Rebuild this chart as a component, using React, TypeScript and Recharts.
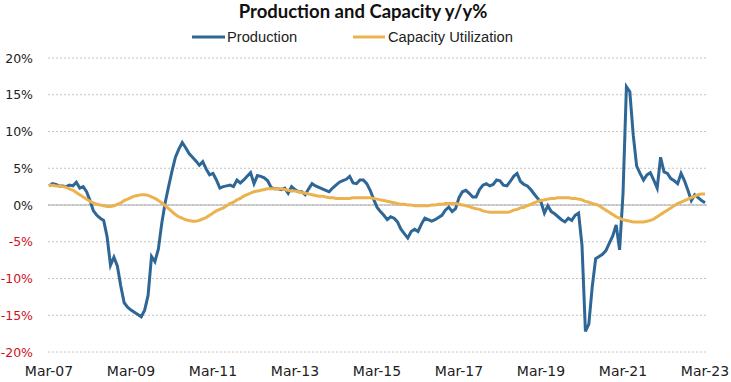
import React from "react";
import { LineChart, Line, XAxis, YAxis, CartesianGrid, ReferenceLine } from "recharts";

// monthly, Mar-07 .. Mar-23
const monthNames = ["Jan", "Feb", "Mar", "Apr", "May", "Jun", "Jul", "Aug", "Sep", "Oct", "Nov", "Dec"];
const months: string[] = [];
for (let i = 0; i < 193; i++) {
  const m = (2 + i) % 12;
  const yr = 7 + Math.floor((2 + i) / 12);
  months.push(`${monthNames[m]}-${String(yr).padStart(2, "0")}`);
}

const production = [
  2.6, 2.9, 2.8, 2.6, 2.6, 2.5, 2.7, 2.6, 3.1, 2.3, 2.5, 1.8,
  0.6, -0.8, -1.4, -1.8, -2.1, -4.3, -8.2, -7.1, -8.3, -11.0, -13.3, -13.9,
  -14.3, -14.6, -14.9, -15.2, -14.3, -12.3, -7.0, -7.7, -6.0, -2.5, 0.3, 2.5,
  4.6, 6.5, 7.6, 8.5, 7.8, 7.0, 6.5, 6.0, 5.4, 5.9, 4.9, 4.1,
  4.3, 3.4, 2.3, 2.5, 2.6, 2.7, 2.5, 3.4, 3.0, 3.4, 3.9, 4.4,
  2.9, 4.0, 3.9, 3.7, 3.3, 2.4, 2.2, 2.2, 2.1, 2.3, 1.6, 2.5,
  2.1, 1.8, 1.8, 1.4, 2.2, 2.9, 2.6, 2.4, 2.2, 2.0, 1.8, 2.3,
  2.7, 3.1, 3.3, 3.5, 3.9, 3.0, 2.9, 3.4, 3.4, 2.9, 2.0, 0.8,
  -0.3, -0.9, -1.4, -2.0, -1.6, -1.8, -2.3, -3.3, -3.9, -4.5, -3.6, -3.3,
  -3.6, -2.6, -1.8, -2.0, -2.2, -2.0, -1.7, -1.4, -0.7, -0.3, -0.9, -0.5,
  1.0, 1.8, 2.0, 1.6, 1.1, 1.1, 2.1, 2.7, 2.9, 2.6, 2.8, 3.4,
  3.3, 2.7, 2.6, 3.2, 3.9, 4.3, 3.2, 2.8, 2.6, 2.1, 1.5, 0.9,
  0.4, -1.1, -0.1, -0.9, -1.2, -1.6, -2.0, -2.3, -1.8, -2.1, -1.4, -1.1,
  -5.5, -17.2, -16.2, -11.1, -7.3, -7.0, -6.7, -6.2, -5.2, -4.2, -2.7, -6.1,
  1.5, 16.1, 15.4, 9.5, 5.3, 4.3, 3.4, 4.1, 4.4, 3.4, 2.3, 6.5,
  4.5, 4.3, 3.6, 3.3, 2.9, 4.3, 3.3, 2.0, 0.6, 1.4, 1.0, 0.6,
  0.3,
];

const capacityUtil = [
  2.7, 2.7, 2.6, 2.6, 2.5, 2.4, 2.2, 2.0, 1.7, 1.4, 1.1, 0.8,
  0.5, 0.3, 0.1, 0.0, -0.1, -0.2, -0.2, -0.1, 0.1, 0.3, 0.6, 0.8,
  1.0, 1.2, 1.3, 1.4, 1.4, 1.3, 1.1, 0.9, 0.6, 0.3, -0.1, -0.5,
  -0.9, -1.3, -1.6, -1.8, -2.0, -2.1, -2.2, -2.2, -2.1, -1.9, -1.7, -1.4,
  -1.1, -0.8, -0.6, -0.4, -0.1, 0.2, 0.4, 0.7, 0.9, 1.2, 1.4, 1.6,
  1.8, 1.9, 2.0, 2.1, 2.2, 2.2, 2.2, 2.2, 2.2, 2.1, 2.0, 1.9,
  1.9, 1.8, 1.7, 1.6, 1.5, 1.4, 1.3, 1.2, 1.2, 1.1, 1.0, 1.0,
  0.9, 0.9, 0.9, 0.9, 0.9, 1.0, 1.0, 1.0, 1.0, 1.0, 1.0, 0.9,
  0.8, 0.7, 0.6, 0.5, 0.4, 0.3, 0.2, 0.1, 0.1, 0.0, 0.0, -0.1,
  -0.1, -0.1, -0.1, -0.1, 0.0, 0.0, 0.1, 0.1, 0.2, 0.2, 0.2, 0.2,
  0.1, 0.0, -0.1, -0.2, -0.4, -0.5, -0.6, -0.8, -0.9, -1.0, -1.0, -1.0,
  -1.0, -1.0, -1.0, -0.9, -0.7, -0.6, -0.4, -0.3, -0.1, 0.1, 0.3, 0.5,
  0.6, 0.7, 0.8, 0.9, 0.9, 1.0, 1.0, 1.0, 1.0, 0.9, 0.9, 0.8,
  0.7, 0.5, 0.4, 0.2, 0.1, -0.1, -0.4, -0.7, -1.0, -1.3, -1.6, -1.8,
  -2.0, -2.1, -2.2, -2.3, -2.3, -2.3, -2.3, -2.2, -2.1, -1.9, -1.6, -1.3,
  -1.0, -0.7, -0.4, -0.1, 0.2, 0.4, 0.6, 0.8, 1.0, 1.2, 1.4, 1.5,
  1.5,
];

const yTicks = [-20, -15, -10, -5, 0, 5, 10, 15, 20];

const BLUE = "#2e6696";
const GOLD = "#ebb24d";

const data = months.map((m, i) => ({
  month: m,
  production: production[i],
  capacity: capacityUtil[i],
}));

const YTick = (props: any) => {
  const { x, y, payload } = props;
  const v = payload.value;
  return (
    <text
      x={x}
      y={y}
      dy={4.5}
      textAnchor="end"
      fontSize={12.5}
      fontFamily="'DejaVu Sans', sans-serif"
      fill={v < 0 ? "#d0101c" : "#222"}
    >
      {v}%
    </text>
  );
};

export default function App() {
  return (
    <div style={{ position: "absolute", left: 0, top: 0, width: 731, height: 382, background: "#fff" }}>
      <LineChart
        width={731}
        height={382}
        data={data}
        margin={{ top: 58, right: 24, bottom: 0, left: 0 }}
      >
        <CartesianGrid vertical={false} stroke="#c4c4c4" strokeDasharray="2 2" />
        <ReferenceLine y={0} stroke="#a8a8a8" strokeWidth={1} />
        <XAxis
          dataKey="month"
          interval={23}
          axisLine={false}
          tickLine={false}
          tickSize={0}
          tickMargin={14}
          height={30}
          padding={{ left: 1, right: 2 }}
          tick={{ fontSize: 14, fill: "#222", fontFamily: "'DejaVu Sans', sans-serif" }}
        />
        <YAxis
          domain={[-20, 20]}
          ticks={yTicks}
          width={48}
          axisLine={false}
          tickLine={false}
          tickSize={0}
          tickMargin={15}
          tick={<YTick />}
        />
        <Line
          type="linear"
          dataKey="production"
          name="Production"
          stroke={BLUE}
          strokeWidth={3}
          dot={false}
          isAnimationActive={false}
        />
        <Line
          type="monotone"
          dataKey="capacity"
          name="Capacity Utilization"
          stroke={GOLD}
          strokeWidth={3}
          dot={false}
          isAnimationActive={false}
        />
      </LineChart>
      <svg
        width={731}
        height={50}
        style={{ position: "absolute", left: 0, top: 0, pointerEvents: "none" }}
      >
        <text
          x={363}
          y={18}
          textAnchor="middle"
          fontFamily="Lato, sans-serif"
          fontWeight={700}
          fontSize={18.5}
          fill="#111"
        >
          Production and Capacity y/y%
        </text>
        <line x1={192} x2={225} y1={37} y2={37} stroke={BLUE} strokeWidth={3} />
        <text x={227} y={41.5} fontFamily="'Liberation Sans', Arial, sans-serif" fontSize={14.7} fill="#222">
          Production
        </text>
        <line x1={353} x2={385} y1={37} y2={37} stroke={GOLD} strokeWidth={3} />
        <text x={388} y={41.5} fontFamily="'Liberation Sans', Arial, sans-serif" fontSize={14.7} fill="#222">
          Capacity Utilization
        </text>
      </svg>
    </div>
  );
}
